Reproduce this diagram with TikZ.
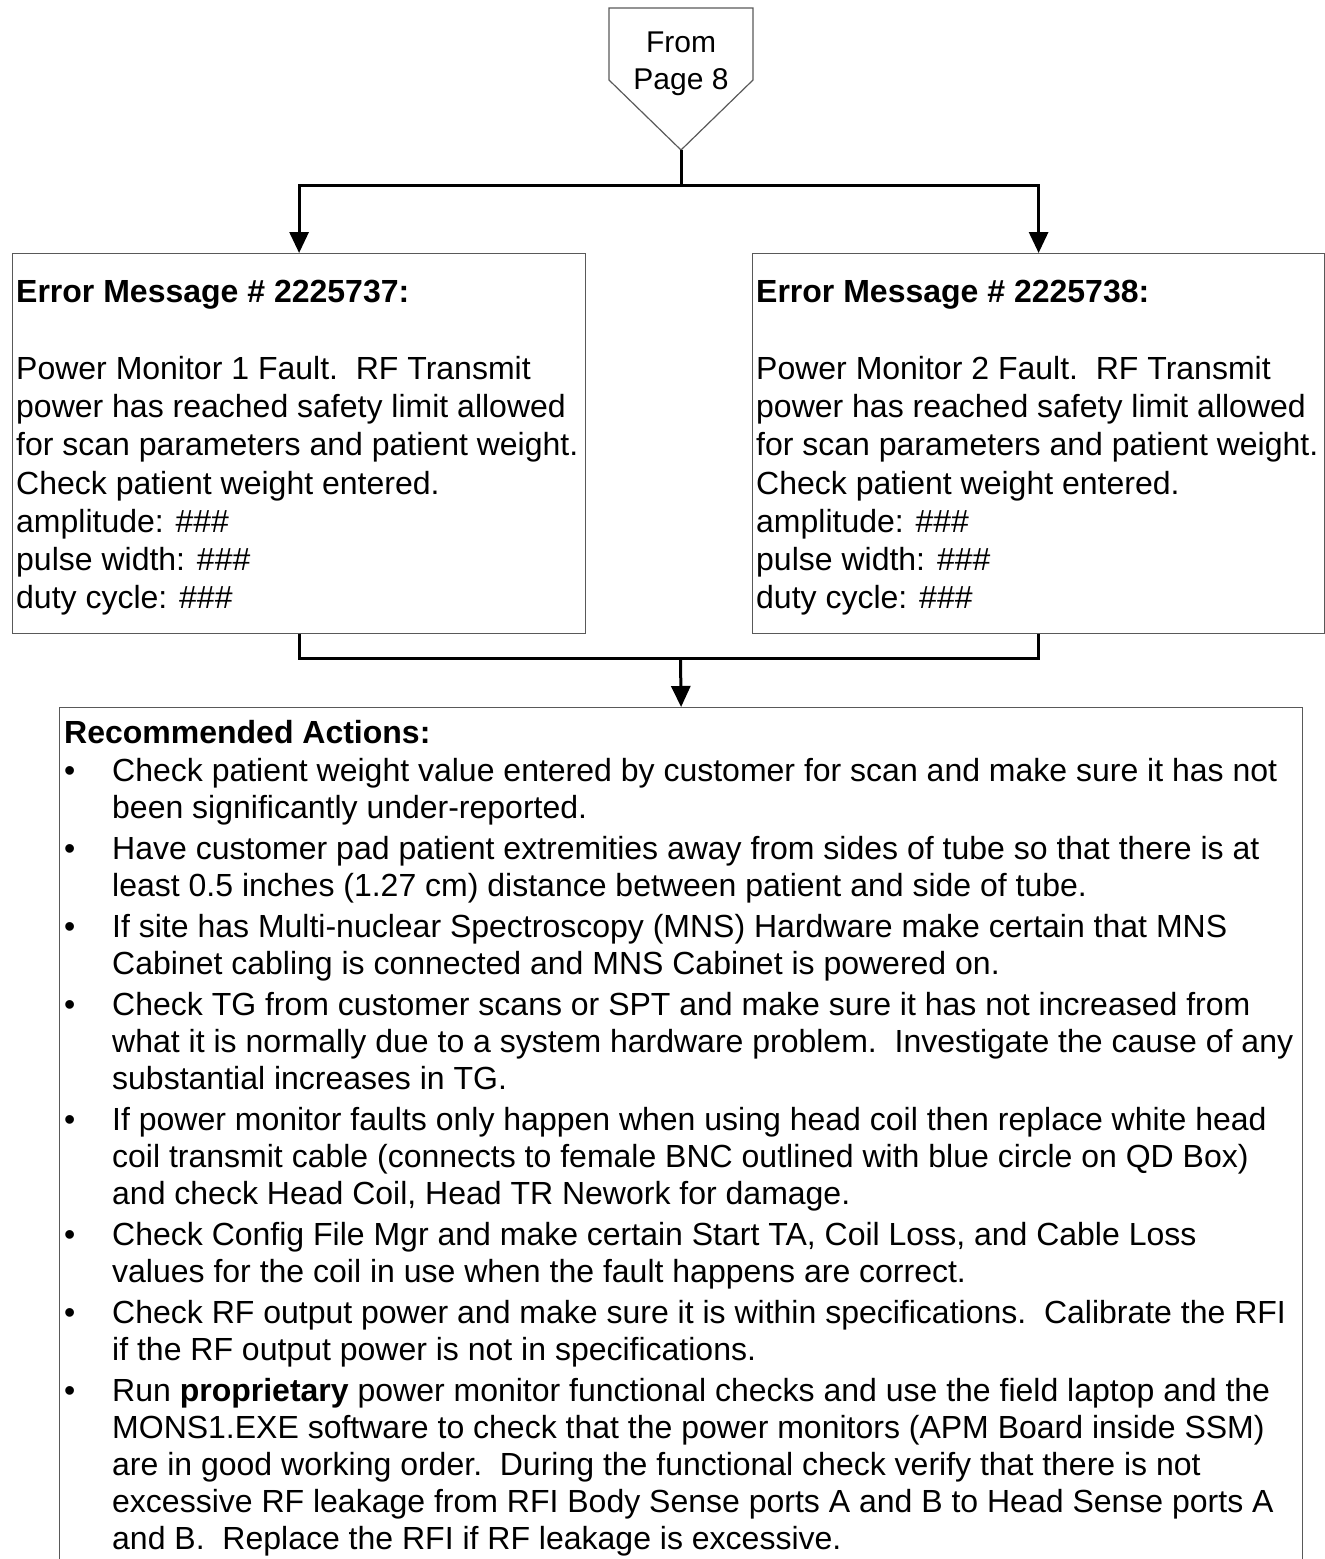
\documentclass[tikz,border=0pt]{standalone}
\usepackage{fontspec}
\setmainfont{Liberation Sans}
\usetikzlibrary{arrows.meta,calc}

% bullet and hanging indent for the action list
\newcommand{\actbullet}{\makebox[48pt][l]{\textbullet}}
\newcommand{\actcont}{\hspace*{48pt}}

\begin{document}
\begin{tikzpicture}[x=1pt,y=-1pt,
  frame/.style={draw=black!65, line width=1.2pt},
  box/.style={frame, rectangle, inner sep=0pt, anchor=north west},
  flow/.style={line width=3pt, draw=black},
  flowarrow/.style={flow, -{Triangle[length=21pt,width=19pt]}},
  boxtext/.style={anchor=north west, inner sep=0pt, align=left,
    font=\fontsize{32}{38.3}\selectfont},
  listtext/.style={anchor=north west, inner sep=0pt, align=left,
    font=\fontsize{32}{37}\selectfont},
  pagetext/.style={anchor=north, inner sep=0pt, align=center,
    font=\fontsize{30}{37}\selectfont},
]
\useasboundingbox (0,0) rectangle (1325,1559);

% off-page connector
\coordinate (pnw) at (609,8);
\coordinate (pne) at (753,8);
\coordinate (pse) at (753,80);
\coordinate (ptip) at (681,150);
\coordinate (psw) at (609,80);
\draw[frame] (pnw) -- (pne) -- (pse) -- (ptip) -- (psw) -- cycle;
\node[pagetext] (fromtxt) at (681,31.5) {From\\Page 8};

% error message boxes
\node[box, minimum width=573pt, minimum height=380pt] (e1) at (12,253) {};
\node[box, minimum width=572pt, minimum height=380pt] (e2) at (752,253) {};

\node[boxtext] (e1txt) at ($(e1.north west)+(4,27)$) {%
\textbf{Error Message \# 2225737:}\\[38.3pt]
Power Monitor 1 Fault.\ \ RF Transmit\\
power has reached safety limit allowed\\
for scan parameters and patient weight.\\
Check patient weight entered.\\
amplitude: \#\#\#\\
pulse width: \#\#\#\\
duty cycle: \#\#\#};

\node[boxtext] (e2txt) at ($(e2.north west)+(4,27)$) {%
\textbf{Error Message \# 2225738:}\\[38.3pt]
Power Monitor 2 Fault.\ \ RF Transmit\\
power has reached safety limit allowed\\
for scan parameters and patient weight.\\
Check patient weight entered.\\
amplitude: \#\#\#\\
pulse width: \#\#\#\\
duty cycle: \#\#\#};

% recommended actions box (runs past the bottom of the page)
\node[box, minimum width=1243pt, minimum height=900pt] (acts) at (59,707) {};

\node[listtext] (actstxt) at ($(acts.north west)+(5,13)$) {%
\textbf{Recommended Actions:}\\[1pt]
\actbullet Check patient weight value entered by customer for scan and make sure it has not\\
\actcont been significantly under-reported.\\[4pt]
\actbullet Have customer pad patient extremities away from sides of tube so that there is at\\
\actcont least 0.5 inches (1.27 cm) distance between patient and side of tube.\\[4pt]
\actbullet If site has Multi-nuclear Spectroscopy (MNS) Hardware make certain that MNS\\
\actcont Cabinet cabling is connected and MNS Cabinet is powered on.\\[4pt]
\actbullet Check TG from customer scans or SPT and make sure it has not increased from\\
\actcont what it is normally due to a system hardware problem.\ \ Investigate the cause of any\\
\actcont substantial increases in TG.\\[4pt]
\actbullet If power monitor faults only happen when using head coil then replace white head\\
\actcont coil transmit cable (connects to female BNC outlined with blue circle on QD Box)\\
\actcont and check Head Coil, Head TR Nework for damage.\\[4pt]
\actbullet Check Config File Mgr and make certain Start TA, Coil Loss, and Cable Loss\\
\actcont values for the coil in use when the fault happens are correct.\\[4pt]
\actbullet Check RF output power and make sure it is within specifications.\ \ Calibrate the RFI\\
\actcont if the RF output power is not in specifications.\\[4pt]
\actbullet Run \textbf{proprietary} power monitor functional checks and use the field laptop and the\\
\actcont MONS1.EXE software to check that the power monitors (APM Board inside SSM)\\
\actcont are in good working order.\ \ During the functional check verify that there is not\\
\actcont excessive RF leakage from RFI Body Sense ports A and B to Head Sense ports A\\
\actcont and B.\ \ Replace the RFI if RF leakage is excessive.};

% connectors
\coordinate (split) at (681,185);
\coordinate (merge) at (680.5,658);
\draw[flow] (ptip) -- (split);
\draw[flowarrow] (split) -| (e1.north);
\draw[flowarrow] (split) -| (e2.north);
\draw[flow] (e1.south) |- (merge) -| (e2.south);
\draw[flowarrow] (merge) -- (acts.north);
\end{tikzpicture}
\end{document}
